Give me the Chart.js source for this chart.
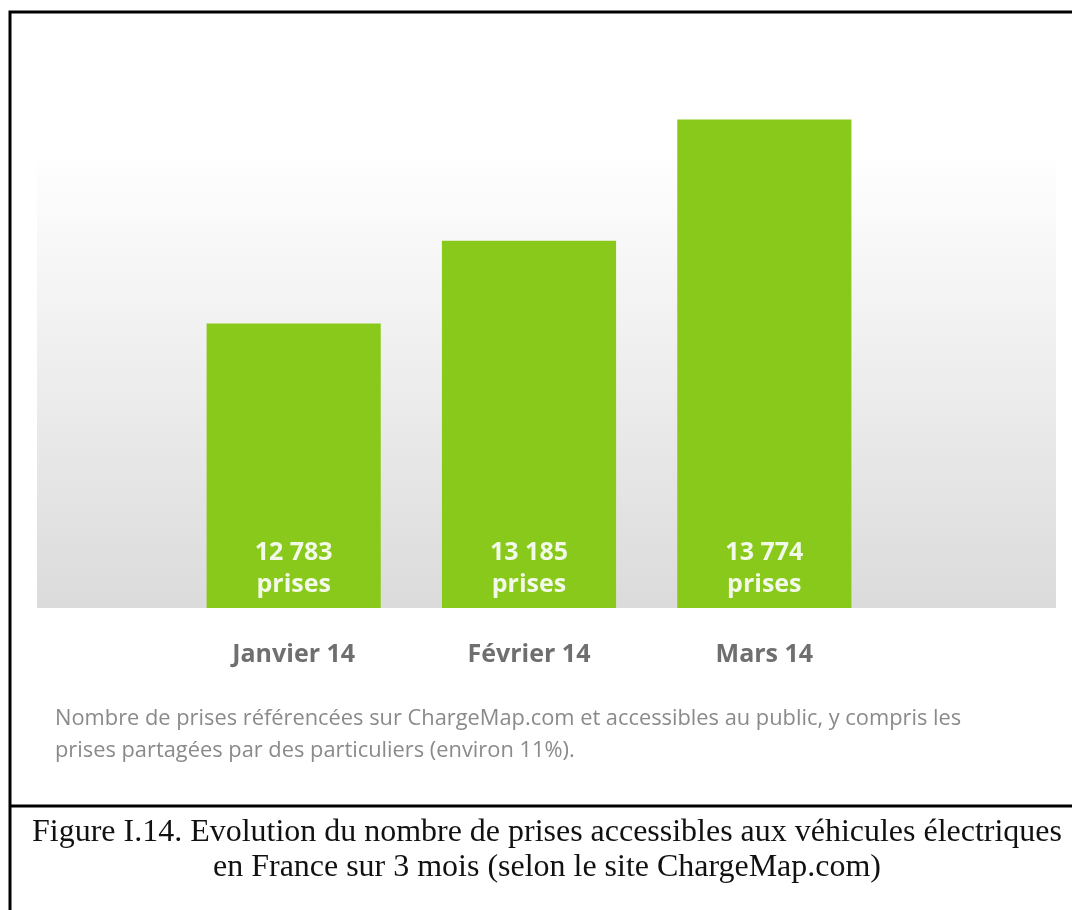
<!doctype html>
<html>
<head>
    <title>Prises ChargeMap</title>
    <script src="https://cdn.jsdelivr.net/npm/chart.js@4.4.1/dist/chart.umd.min.js"></script>
    <style>
    body { margin: 0; background: #fff; }
    canvas { display: block; }
    </style>
</head>
<body>
    <canvas id="myChart" width="1072" height="910"></canvas>
    <script>
    // data
    var months = ["Janvier 14", "Février 14", "Mars 14"];
    var prises = [12783, 13185, 13774];
    var note = [
        "Nombre de prises référencées sur ChargeMap.com et accessibles au public, y compris les",
        "prises partagées par des particuliers (environ 11%)."
    ];
    var caption = [
        "Figure I.14. Evolution du nombre de prises accessibles aux véhicules électriques",
        "en France sur 3 mois (selon le site ChargeMap.com)"
    ];

    function fmt(n) {
        var s = String(n);
        return s.slice(0, s.length - 3) + " " + s.slice(s.length - 3);
    }

    // shrink/grow a font so a line takes the wanted width
    function fitFont(ctx, text, weight, family, size, width) {
        ctx.font = weight + " " + size + "px " + family;
        var w = ctx.measureText(text).width;
        var s = size * width / w;
        ctx.font = weight + " " + s + "px " + family;
    }

    var decor = {
        id: "decor",
        beforeDatasetsDraw: function(chart) {
            var ctx = chart.ctx;
            var bottom = chart.chartArea.bottom;
            ctx.save();
            var g = ctx.createLinearGradient(0, 150, 0, bottom);
            g.addColorStop(0, "#ffffff");
            g.addColorStop(1, "#dbdbdb");
            ctx.fillStyle = g;
            ctx.fillRect(37, 150, 1019, bottom - 150);
            ctx.restore();
        },
        afterDraw: function(chart) {
            var ctx = chart.ctx;
            var xs = chart.scales.x;
            var base = chart.chartArea.bottom;
            ctx.save();

            // values inside the bars
            ctx.fillStyle = "#f3f9e8";
            ctx.textAlign = "center";
            ctx.textBaseline = "middle";
            ctx.font = "bold 25px 'Open Sans'";
            for (var i = 0; i < prises.length; i++) {
                var x = xs.getPixelForValue(i);
                ctx.fillText(fmt(prises[i]), x, base - 55);
                ctx.fillText("prises", x, base - 23);
            }

            // note under the chart
            ctx.fillStyle = "#8a8a8a";
            ctx.textAlign = "left";
            fitFont(ctx, note[0], "normal", "'Liberation Sans Narrow', 'Open Sans'", 19, 907);
            ctx.fillText(note[0], 55, 719);
            ctx.fillText(note[1], 55, 751);

            // frame
            ctx.strokeStyle = "#000";
            ctx.lineWidth = 3;
            ctx.beginPath();
            ctx.moveTo(10, 910);
            ctx.lineTo(10, 12);
            ctx.lineTo(1072, 12);
            ctx.moveTo(10, 806);
            ctx.lineTo(1072, 806);
            ctx.stroke();

            // figure caption
            ctx.fillStyle = "#111";
            ctx.textAlign = "center";
            fitFont(ctx, caption[0], "normal", "'Liberation Serif'", 28, 1030);
            ctx.fillText(caption[0], 547, 833);
            ctx.fillText(caption[1], 547, 868);
            ctx.restore();
        }
    };

    function drawGraph() {
        var ctx = document.getElementById("myChart").getContext("2d");
        var chart = new Chart(ctx, {
            type: "bar",
            data: {
                labels: months,
                datasets: [{
                    data: prises,
                    backgroundColor: "#89c91b",
                    borderWidth: 0,
                    barPercentage: 0.74,
                    categoryPercentage: 1
                }]
            },
            options: {
                responsive: false,
                animation: false,
                layout: { padding: { left: 176, right: 190, top: 73, bottom: 222 } },
                plugins: {
                    legend: { display: false },
                    tooltip: { enabled: false }
                },
                scales: {
                    x: {
                        grid: { display: false, drawTicks: false },
                        border: { display: false },
                        ticks: {
                            color: "#6f6f6f",
                            font: { family: "'Open Sans'", size: 25, weight: "bold" },
                            padding: 32
                        },
                        afterFit: function(s) { s.height = 80; }
                    },
                    y: {
                        display: false,
                        min: 11400,
                        max: 14000
                    }
                }
            },
            plugins: [decor]
        });
    }

    window.onload = function() {
        drawGraph();
    };
    </script>
</body>
</html>
